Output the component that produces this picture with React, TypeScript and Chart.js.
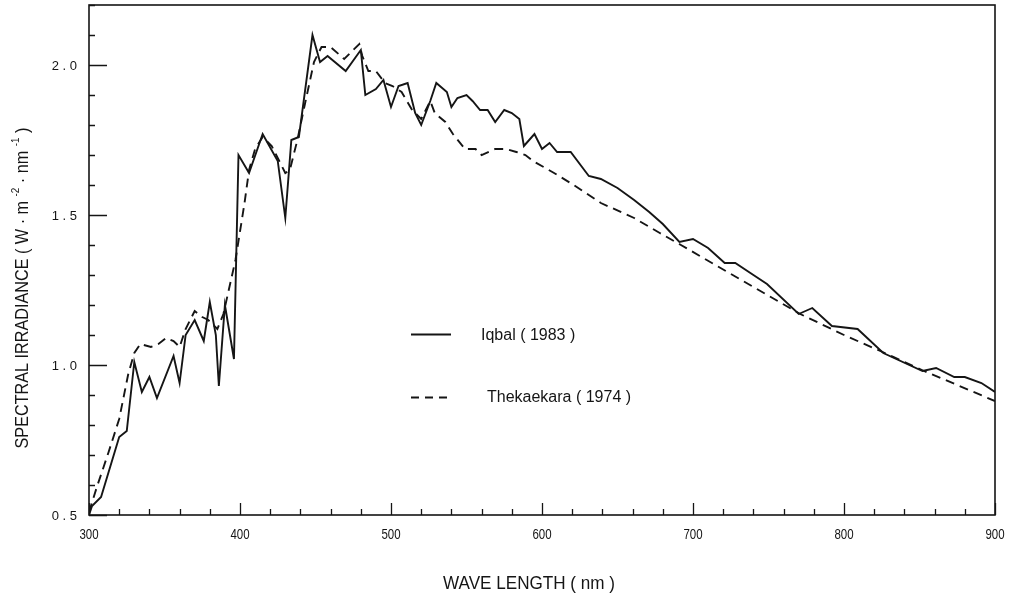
import React, { useEffect, useRef } from "react";
import { Chart, registerables } from "chart.js";

Chart.register(...registerables);

// Iqbal (1983) – solid line
const iqbalWavelength = [
  300, 302, 308, 320, 325, 330, 335, 340, 345, 356, 360, 364, 370, 376, 380, 384, 386, 390, 396, 399,
  406, 415, 425, 430, 434, 439, 448, 453, 458, 470, 480, 483, 490, 495, 500, 505, 511, 516, 520, 526,
  530, 537, 540, 544, 550, 554, 559, 564, 569, 575, 580, 585, 588, 595, 600, 605, 610, 619, 631, 639,
  650, 661, 671, 680, 691, 700, 710, 721, 728, 740, 749, 770, 779, 792, 809, 826, 852, 861, 873, 880,
  891, 900,
];
const iqbalIrradiance = [
  0.5, 0.53, 0.56, 0.76, 0.78, 1.01, 0.91, 0.96, 0.89, 1.03, 0.94, 1.1, 1.15, 1.08, 1.21, 1.1, 0.93, 1.2, 1.02, 1.7,
  1.64, 1.77, 1.68, 1.49, 1.75, 1.76, 2.1, 2.01, 2.03, 1.98, 2.05, 1.9, 1.92, 1.95, 1.86, 1.93, 1.94, 1.84, 1.8, 1.88,
  1.94, 1.91, 1.86, 1.89, 1.9, 1.88, 1.85, 1.85, 1.81, 1.85, 1.84, 1.82, 1.73, 1.77, 1.72, 1.74, 1.71, 1.71, 1.63, 1.62,
  1.59, 1.55, 1.51, 1.47, 1.41, 1.42, 1.39, 1.34, 1.34, 1.3, 1.27, 1.17, 1.19, 1.13, 1.12, 1.04, 0.98, 0.99, 0.96, 0.96,
  0.94, 0.91,
];

// Thekaekara (1974) – dashed line
const thekWavelength = [
  300, 305, 313, 320, 326, 330, 334, 341, 346, 351, 356, 360, 364, 370, 375, 379, 385, 389, 397, 403,
  406, 410, 415, 421, 426, 430, 433, 438, 443, 449, 454, 460, 469, 479, 481, 485, 490, 496, 501, 507,
  514, 520, 526, 529, 536, 541, 549, 556, 560, 569, 576, 583, 589, 594, 608, 621, 639, 661, 678, 692,
  740, 771, 800, 827, 853, 900,
];
const thekIrradiance = [
  0.51, 0.59, 0.71, 0.82, 0.97, 1.04, 1.07, 1.06, 1.07, 1.09, 1.08, 1.06, 1.12, 1.18, 1.16, 1.15, 1.12, 1.17, 1.35, 1.54,
  1.65, 1.72, 1.76, 1.73, 1.68, 1.64, 1.65, 1.75, 1.87, 2.01, 2.06, 2.06, 2.02, 2.07, 2.03, 1.98, 1.98, 1.94, 1.93, 1.91,
  1.85, 1.82, 1.88, 1.84, 1.81, 1.77, 1.72, 1.72, 1.7, 1.72, 1.72, 1.71, 1.7, 1.68, 1.64, 1.6, 1.54, 1.49, 1.44, 1.4,
  1.26, 1.17, 1.1, 1.04, 0.98, 0.88,
];

const seriesNames = ["Iqbal ( 1983 )", "Thekaekara ( 1974 )"];
const xTickValues = [300, 400, 500, 600, 700, 800, 900];
const yTickValues = [0.5, 1.0, 1.5, 2.0];
const xMinorTicks = [300, 320, 340, 360, 380, 400, 420, 440, 460, 480, 500, 520, 540, 560, 580, 600, 620, 640, 660, 680, 700, 720, 740, 760, 780, 800, 820, 840, 860, 880, 900];
const yMinorTicks = [0.5, 0.6, 0.7, 0.8, 0.9, 1.0, 1.1, 1.2, 1.3, 1.4, 1.5, 1.6, 1.7, 1.8, 1.9, 2.0, 2.1, 2.2];
const xTitle = "WAVE LENGTH ( nm )";
const yTitleParts: [string, boolean][] = [
  ["SPECTRAL IRRADIANCE ( W · m ", false],
  ["-2", true],
  [" · nm ", false],
  ["-1", true],
  [" )", false],
];

const FONT = "'Liberation Sans', Arial, sans-serif";
const INK = "#151515";

const framePlugin = {
  id: "framePlugin",
  afterDraw(chart: any) {
    const { ctx, chartArea: a, scales } = chart;
    const xs = scales.x;
    const ys = scales.y;
    ctx.save();
    ctx.strokeStyle = INK;
    ctx.fillStyle = INK;
    ctx.lineWidth = 1.6;
    ctx.strokeRect(a.left, a.top, a.right - a.left, a.bottom - a.top);

    ctx.lineWidth = 1.3;
    ctx.beginPath();
    for (const v of xMinorTicks) {
      const px = Math.round(xs.getPixelForValue(v)) + 0.5;
      const len = xTickValues.includes(v) ? 12 : 6;
      ctx.moveTo(px, a.bottom);
      ctx.lineTo(px, a.bottom - len);
    }
    for (const v of yMinorTicks) {
      const py = Math.round(ys.getPixelForValue(v)) + 0.5;
      const major = yTickValues.some((t) => Math.abs(t - v) < 1e-6);
      ctx.moveTo(a.left, py);
      ctx.lineTo(a.left + (major ? 18 : 6), py);
    }
    ctx.stroke();

    // tick labels
    ctx.font = `14px ${FONT}`;
    ctx.textBaseline = "middle";
    ctx.textAlign = "center";
    for (const v of xTickValues) {
      const px = xs.getPixelForValue(v);
      ctx.save();
      ctx.translate(px, a.bottom + 20);
      ctx.scale(0.82, 1);
      ctx.fillText(String(v), 0, 0);
      ctx.restore();
    }
    ctx.font = `13px ${FONT}`;
    ctx.textAlign = "right";
    for (const v of yTickValues) {
      const py = ys.getPixelForValue(v);
      ctx.fillText(v.toFixed(1).split("").join(" "), a.left - 12, py + 1);
    }

    // X axis title
    ctx.save();
    ctx.font = `19px ${FONT}`;
    ctx.textAlign = "center";
    ctx.textBaseline = "middle";
    ctx.translate(529, 584);
    ctx.scale(0.9, 1);
    ctx.fillText(xTitle, 0, 0);
    ctx.restore();

    // Y axis title (rotated, with superscripts)
    ctx.save();
    ctx.translate(23, 288);
    ctx.rotate(-Math.PI / 2);
    ctx.scale(0.9, 1);
    ctx.textBaseline = "middle";
    const normalFont = `18px ${FONT}`;
    const supFont = `11px ${FONT}`;
    let total = 0;
    for (const [t, sup] of yTitleParts) {
      ctx.font = sup ? supFont : normalFont;
      total += ctx.measureText(t).width;
    }
    let x = -total / 2;
    ctx.textAlign = "left";
    for (const [t, sup] of yTitleParts) {
      ctx.font = sup ? supFont : normalFont;
      ctx.fillText(t, x, sup ? -7 : 0);
      x += ctx.measureText(t).width;
    }
    ctx.restore();

    // Legend
    ctx.lineWidth = 1.8;
    ctx.beginPath();
    ctx.moveTo(411, 334.5);
    ctx.lineTo(451, 334.5);
    ctx.stroke();
    ctx.setLineDash([8, 6]);
    ctx.beginPath();
    ctx.moveTo(411, 397.5);
    ctx.lineTo(453, 397.5);
    ctx.stroke();
    ctx.setLineDash([]);
    ctx.font = `16px ${FONT}`;
    ctx.textAlign = "left";
    ctx.textBaseline = "middle";
    ctx.fillText(seriesNames[0], 481, 336);
    ctx.fillText(seriesNames[1], 487, 398);
    ctx.restore();
  },
};

export default function App() {
  const ref = useRef<HTMLCanvasElement>(null);
  useEffect(() => {
    if (!ref.current) return;
    const chart = new Chart(ref.current, {
      type: "line",
      data: {
        datasets: [
          {
            label: seriesNames[0],
            data: iqbalWavelength.map((w, i) => ({ x: w, y: iqbalIrradiance[i] })),
            borderColor: INK,
            borderWidth: 1.9,
            pointRadius: 0,
            tension: 0,
            fill: false,
          },
          {
            label: seriesNames[1],
            data: thekWavelength.map((w, i) => ({ x: w, y: thekIrradiance[i] })),
            borderColor: INK,
            borderWidth: 1.9,
            borderDash: [9, 6],
            pointRadius: 0,
            tension: 0,
            fill: false,
          },
        ],
      },
      options: {
        responsive: false,
        animation: false,
        layout: { padding: { left: 0, right: 19, top: 5, bottom: 0 } },
        plugins: { legend: { display: false }, tooltip: { enabled: false } },
        scales: {
          x: {
            type: "linear",
            min: 300,
            max: 900,
            afterBuildTicks: (s: any) => {
              s.ticks = xTickValues.map((v) => ({ value: v }));
            },
            afterFit: (s: any) => {
              s.height = 86;
            },
            grid: { display: false, drawTicks: false },
            border: { display: false },
            ticks: { display: false },
          },
          y: {
            type: "linear",
            min: 0.5,
            max: 2.2,
            afterBuildTicks: (s: any) => {
              s.ticks = yTickValues.map((v) => ({ value: v }));
            },
            afterFit: (s: any) => {
              s.width = 89;
            },
            grid: { display: false, drawTicks: false },
            border: { display: false },
            ticks: { display: false },
          },
        },
      },
      plugins: [framePlugin],
    });
    return () => chart.destroy();
  }, []);
  return (
    <canvas
      ref={ref}
      width={1014}
      height={601}
      style={{ position: "absolute", left: 0, top: 0, display: "block", background: "#fff" }}
    />
  );
}
